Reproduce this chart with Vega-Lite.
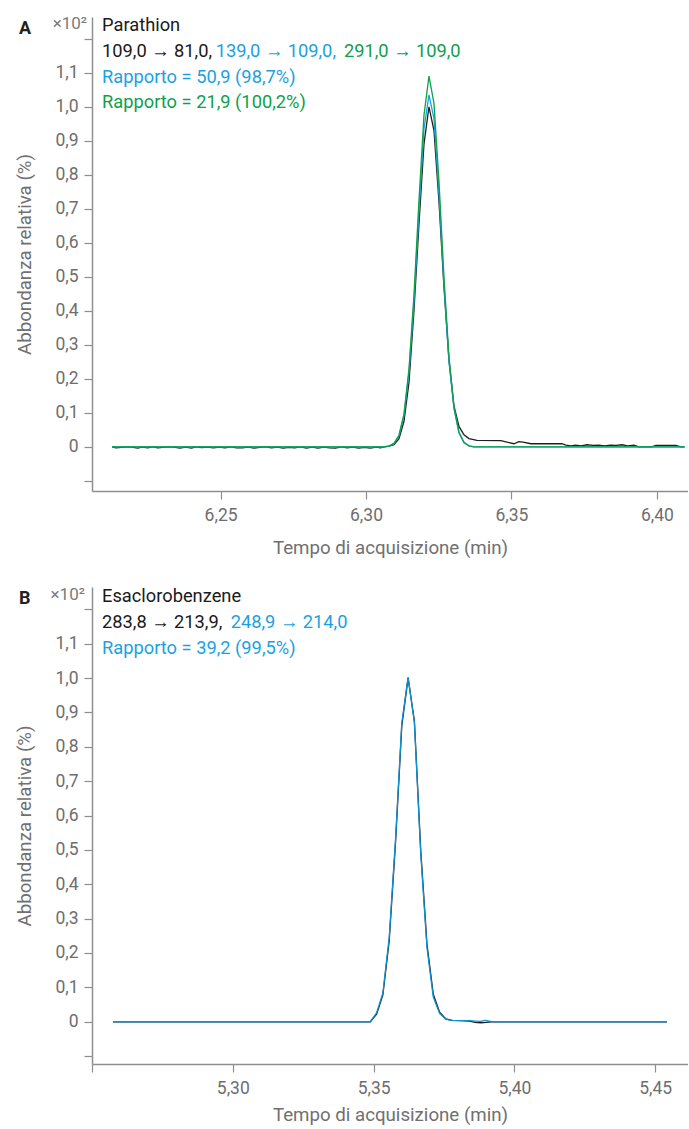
{
  "$schema": "https://vega.github.io/schema/vega-lite/v6.json",
  "padding": {"left": 15, "top": 15, "right": 0, "bottom": 0},
  "background": "white",
  "spacing": 27,
  "config": {
    "font": "Roboto",
    "view": {"stroke": null},
    "axis": {
      "domainColor": "#8f8f8f", "domainWidth": 1.5,
      "tickColor": "#8f8f8f", "tickWidth": 1.2, "tickSize": 8,
      "labelColor": "#6e6e6e", "labelFont": "Roboto", "labelFontSize": 17.5, "labelOverlap": false,
      "titleColor": "#707070", "titleFont": "Roboto", "titleFontSize": 18.7, "titleFontWeight": "normal",
      "grid": false
    }
  },
  "datasets": {
    "traces": [
      {"panel":"A","series":"A1","t":6.2127,"v":0},
      {"panel":"A","series":"A1","t":6.2140,"v":-0.003},
      {"panel":"A","series":"A1","t":6.2160,"v":-0.002},
      {"panel":"A","series":"A1","t":6.2180,"v":0},
      {"panel":"A","series":"A1","t":6.2200,"v":-0.002},
      {"panel":"A","series":"A1","t":6.2215,"v":-0.004},
      {"panel":"A","series":"A1","t":6.2230,"v":-0.001},
      {"panel":"A","series":"A1","t":6.2250,"v":-0.003},
      {"panel":"A","series":"A1","t":6.2265,"v":0},
      {"panel":"A","series":"A1","t":6.2285,"v":-0.003},
      {"panel":"A","series":"A1","t":6.2300,"v":-0.002},
      {"panel":"A","series":"A1","t":6.2320,"v":0},
      {"panel":"A","series":"A1","t":6.2340,"v":-0.001},
      {"panel":"A","series":"A1","t":6.2360,"v":-0.004},
      {"panel":"A","series":"A1","t":6.2380,"v":-0.001},
      {"panel":"A","series":"A1","t":6.2400,"v":-0.004},
      {"panel":"A","series":"A1","t":6.2415,"v":0},
      {"panel":"A","series":"A1","t":6.2435,"v":-0.002},
      {"panel":"A","series":"A1","t":6.2455,"v":-0.001},
      {"panel":"A","series":"A1","t":6.2475,"v":-0.003},
      {"panel":"A","series":"A1","t":6.2495,"v":-0.001},
      {"panel":"A","series":"A1","t":6.2515,"v":-0.003},
      {"panel":"A","series":"A1","t":6.2535,"v":0},
      {"panel":"A","series":"A1","t":6.2555,"v":-0.003},
      {"panel":"A","series":"A1","t":6.2575,"v":-0.003},
      {"panel":"A","series":"A1","t":6.2595,"v":-0.001},
      {"panel":"A","series":"A1","t":6.2615,"v":-0.004},
      {"panel":"A","series":"A1","t":6.2635,"v":-0.002},
      {"panel":"A","series":"A1","t":6.2655,"v":0},
      {"panel":"A","series":"A1","t":6.2675,"v":-0.003},
      {"panel":"A","series":"A1","t":6.2695,"v":-0.001},
      {"panel":"A","series":"A1","t":6.2715,"v":-0.004},
      {"panel":"A","series":"A1","t":6.2735,"v":-0.002},
      {"panel":"A","series":"A1","t":6.2755,"v":-0.003},
      {"panel":"A","series":"A1","t":6.2775,"v":0},
      {"panel":"A","series":"A1","t":6.2795,"v":-0.004},
      {"panel":"A","series":"A1","t":6.2815,"v":-0.001},
      {"panel":"A","series":"A1","t":6.2835,"v":-0.004},
      {"panel":"A","series":"A1","t":6.2855,"v":-0.001},
      {"panel":"A","series":"A1","t":6.2875,"v":-0.003},
      {"panel":"A","series":"A1","t":6.2895,"v":-0.004},
      {"panel":"A","series":"A1","t":6.2915,"v":0},
      {"panel":"A","series":"A1","t":6.2935,"v":-0.003},
      {"panel":"A","series":"A1","t":6.2955,"v":-0.001},
      {"panel":"A","series":"A1","t":6.2975,"v":-0.004},
      {"panel":"A","series":"A1","t":6.2995,"v":-0.002},
      {"panel":"A","series":"A1","t":6.3015,"v":-0.004},
      {"panel":"A","series":"A1","t":6.3035,"v":-0.001},
      {"panel":"A","series":"A1","t":6.3050,"v":-0.003},
      {"panel":"A","series":"A1","t":6.3062,"v":0},
      {"panel":"A","series":"A1","t":6.3079,"v":0.002},
      {"panel":"A","series":"A1","t":6.30962,"v":0.006},
      {"panel":"A","series":"A1","t":6.31134,"v":0.024},
      {"panel":"A","series":"A1","t":6.31306,"v":0.075},
      {"panel":"A","series":"A1","t":6.31478,"v":0.19},
      {"panel":"A","series":"A1","t":6.31649,"v":0.40},
      {"panel":"A","series":"A1","t":6.31821,"v":0.655},
      {"panel":"A","series":"A1","t":6.31993,"v":0.89},
      {"panel":"A","series":"A1","t":6.32165,"v":1.0},
      {"panel":"A","series":"A1","t":6.32337,"v":0.93},
      {"panel":"A","series":"A1","t":6.32509,"v":0.72},
      {"panel":"A","series":"A1","t":6.3268,"v":0.47},
      {"panel":"A","series":"A1","t":6.32852,"v":0.255},
      {"panel":"A","series":"A1","t":6.33024,"v":0.12},
      {"panel":"A","series":"A1","t":6.33196,"v":0.06},
      {"panel":"A","series":"A1","t":6.33368,"v":0.035},
      {"panel":"A","series":"A1","t":6.3354,"v":0.024},
      {"panel":"A","series":"A1","t":6.33814,"v":0.019},
      {"panel":"A","series":"A1","t":6.34639,"v":0.018},
      {"panel":"A","series":"A1","t":6.35086,"v":0.009},
      {"panel":"A","series":"A1","t":6.35258,"v":0.015},
      {"panel":"A","series":"A1","t":6.354,"v":0.014},
      {"panel":"A","series":"A1","t":6.3567,"v":0.009},
      {"panel":"A","series":"A1","t":6.36735,"v":0.009},
      {"panel":"A","series":"A1","t":6.36873,"v":0.005},
      {"panel":"A","series":"A1","t":6.3705,"v":0.003},
      {"panel":"A","series":"A1","t":6.372,"v":0.005},
      {"panel":"A","series":"A1","t":6.374,"v":0.003},
      {"panel":"A","series":"A1","t":6.376,"v":0.006},
      {"panel":"A","series":"A1","t":6.378,"v":0.004},
      {"panel":"A","series":"A1","t":6.38,"v":0.005},
      {"panel":"A","series":"A1","t":6.382,"v":0.003},
      {"panel":"A","series":"A1","t":6.384,"v":0.005},
      {"panel":"A","series":"A1","t":6.386,"v":0.004},
      {"panel":"A","series":"A1","t":6.388,"v":0.006},
      {"panel":"A","series":"A1","t":6.39,"v":0.003},
      {"panel":"A","series":"A1","t":6.3921,"v":0.005},
      {"panel":"A","series":"A1","t":6.39381,"v":0.0},
      {"panel":"A","series":"A1","t":6.39828,"v":0.0},
      {"panel":"A","series":"A1","t":6.39966,"v":0.004},
      {"panel":"A","series":"A1","t":6.40653,"v":0.004},
      {"panel":"A","series":"A1","t":6.40825,"v":0.0},
      {"panel":"A","series":"A1","t":6.4095,"v":0.0},

      {"panel":"A","series":"A2","t":6.2127,"v":0},
      {"panel":"A","series":"A2","t":6.3062,"v":0},
      {"panel":"A","series":"A2","t":6.3079,"v":0.002},
      {"panel":"A","series":"A2","t":6.30962,"v":0.0095},
      {"panel":"A","series":"A2","t":6.31134,"v":0.032},
      {"panel":"A","series":"A2","t":6.31306,"v":0.092},
      {"panel":"A","series":"A2","t":6.31478,"v":0.218},
      {"panel":"A","series":"A2","t":6.31649,"v":0.425},
      {"panel":"A","series":"A2","t":6.31821,"v":0.69},
      {"panel":"A","series":"A2","t":6.31993,"v":0.935},
      {"panel":"A","series":"A2","t":6.32165,"v":1.035},
      {"panel":"A","series":"A2","t":6.32337,"v":0.965},
      {"panel":"A","series":"A2","t":6.32509,"v":0.745},
      {"panel":"A","series":"A2","t":6.3268,"v":0.478},
      {"panel":"A","series":"A2","t":6.32852,"v":0.252},
      {"panel":"A","series":"A2","t":6.33024,"v":0.112},
      {"panel":"A","series":"A2","t":6.33196,"v":0.041},
      {"panel":"A","series":"A2","t":6.33368,"v":0.012},
      {"panel":"A","series":"A2","t":6.3354,"v":0.003},
      {"panel":"A","series":"A2","t":6.33711,"v":0},
      {"panel":"A","series":"A2","t":6.4095,"v":0},

      {"panel":"A","series":"A3","t":6.2127,"v":0},
      {"panel":"A","series":"A3","t":6.3062,"v":0},
      {"panel":"A","series":"A3","t":6.3079,"v":0.002},
      {"panel":"A","series":"A3","t":6.30962,"v":0.01},
      {"panel":"A","series":"A3","t":6.31134,"v":0.034},
      {"panel":"A","series":"A3","t":6.31306,"v":0.097},
      {"panel":"A","series":"A3","t":6.31478,"v":0.229},
      {"panel":"A","series":"A3","t":6.31649,"v":0.447},
      {"panel":"A","series":"A3","t":6.31821,"v":0.724},
      {"panel":"A","series":"A3","t":6.31993,"v":0.975},
      {"panel":"A","series":"A3","t":6.32165,"v":1.09},
      {"panel":"A","series":"A3","t":6.32337,"v":1.01},
      {"panel":"A","series":"A3","t":6.32509,"v":0.78},
      {"panel":"A","series":"A3","t":6.3268,"v":0.50},
      {"panel":"A","series":"A3","t":6.32852,"v":0.265},
      {"panel":"A","series":"A3","t":6.33024,"v":0.117},
      {"panel":"A","series":"A3","t":6.33196,"v":0.043},
      {"panel":"A","series":"A3","t":6.33368,"v":0.013},
      {"panel":"A","series":"A3","t":6.3354,"v":0.003},
      {"panel":"A","series":"A3","t":6.33711,"v":0},
      {"panel":"A","series":"A3","t":6.4095,"v":0},

      {"panel":"B","series":"B1","t":5.2575,"v":0},
      {"panel":"B","series":"B1","t":5.34883,"v":0},
      {"panel":"B","series":"B1","t":5.35107,"v":0.022},
      {"panel":"B","series":"B1","t":5.3533,"v":0.078},
      {"panel":"B","series":"B1","t":5.35554,"v":0.235},
      {"panel":"B","series":"B1","t":5.35778,"v":0.52},
      {"panel":"B","series":"B1","t":5.36001,"v":0.86},
      {"panel":"B","series":"B1","t":5.36225,"v":1.0},
      {"panel":"B","series":"B1","t":5.36449,"v":0.875},
      {"panel":"B","series":"B1","t":5.36673,"v":0.5},
      {"panel":"B","series":"B1","t":5.36896,"v":0.225},
      {"panel":"B","series":"B1","t":5.3712,"v":0.08},
      {"panel":"B","series":"B1","t":5.37344,"v":0.028},
      {"panel":"B","series":"B1","t":5.37567,"v":0.008},
      {"panel":"B","series":"B1","t":5.37791,"v":0.004},
      {"panel":"B","series":"B1","t":5.381,"v":0.003},
      {"panel":"B","series":"B1","t":5.384,"v":0.002},
      {"panel":"B","series":"B1","t":5.386,"v":-0.002},
      {"panel":"B","series":"B1","t":5.388,"v":-0.003},
      {"panel":"B","series":"B1","t":5.39,"v":-0.002},
      {"panel":"B","series":"B1","t":5.392,"v":0.0},
      {"panel":"B","series":"B1","t":5.4542,"v":0},

      {"panel":"B","series":"B2","t":5.2575,"v":0},
      {"panel":"B","series":"B2","t":5.34883,"v":0},
      {"panel":"B","series":"B2","t":5.35107,"v":0.026},
      {"panel":"B","series":"B2","t":5.3533,"v":0.084},
      {"panel":"B","series":"B2","t":5.35554,"v":0.245},
      {"panel":"B","series":"B2","t":5.35778,"v":0.53},
      {"panel":"B","series":"B2","t":5.36001,"v":0.87},
      {"panel":"B","series":"B2","t":5.36225,"v":1.003},
      {"panel":"B","series":"B2","t":5.36449,"v":0.87},
      {"panel":"B","series":"B2","t":5.36673,"v":0.49},
      {"panel":"B","series":"B2","t":5.36896,"v":0.215},
      {"panel":"B","series":"B2","t":5.3712,"v":0.072},
      {"panel":"B","series":"B2","t":5.37344,"v":0.024},
      {"panel":"B","series":"B2","t":5.37567,"v":0.007},
      {"panel":"B","series":"B2","t":5.37791,"v":0.004},
      {"panel":"B","series":"B2","t":5.381,"v":0.003},
      {"panel":"B","series":"B2","t":5.384,"v":0.003},
      {"panel":"B","series":"B2","t":5.386,"v":0.002},
      {"panel":"B","series":"B2","t":5.388,"v":0.001},
      {"panel":"B","series":"B2","t":5.3897,"v":0.004},
      {"panel":"B","series":"B2","t":5.392,"v":0.0},
      {"panel":"B","series":"B2","t":5.4542,"v":0}
    ]
  },
  "vconcat": [
    {
      "width": 596,
      "height": 474,
      "layer": [
        {
          "data": {"name": "traces"},
          "transform": [{"filter": "datum.series == 'A1'"}],
          "mark": {"type": "line", "color": "#1f1f1f", "strokeWidth": 1.3},
          "encoding": {
            "x": {"field": "t", "type": "quantitative",
              "scale": {"domain": [6.2058, 6.4107], "nice": false, "zero": false},
              "axis": {"values": [6.25, 6.3, 6.35, 6.4], "tickCount": 30, "labelOverlap": false,
                "labelExpr": "replace(format(datum.value, '.2f'), '.', ',')",
                "title": "Tempo di acquisizione (min)", "labelPadding": 7, "titlePadding": 15}},
            "y": {"field": "v", "type": "quantitative",
              "scale": {"domain": [-0.13, 1.264], "nice": false, "zero": false},
              "axis": {"values": [-0.1, 0, 0.1, 0.2, 0.3, 0.4, 0.5, 0.6, 0.7, 0.8, 0.9, 1.0, 1.1, 1.2], "tickCount": 30, "labelOverlap": false,
                "labelExpr": "datum.value < -0.05 || datum.value > 1.15 ? '' : (datum.value == 0 ? '0' : replace(format(datum.value, '.1f'), '.', ','))",
                "title": "Abbondanza relativa (%)", "labelPadding": 6, "titlePadding": 20}}
          }
        },
        {
          "data": {"name": "traces"},
          "transform": [{"filter": "datum.series == 'A2'"}],
          "mark": {"type": "line", "color": "#1ba1e2", "strokeWidth": 1.3},
          "encoding": {"x": {"field": "t", "type": "quantitative"}, "y": {"field": "v", "type": "quantitative"}}
        },
        {
          "data": {"name": "traces"},
          "transform": [{"filter": "datum.series == 'A3'"}],
          "mark": {"type": "line", "color": "#0da14b", "strokeWidth": 1.3},
          "encoding": {"x": {"field": "t", "type": "quantitative"}, "y": {"field": "v", "type": "quantitative"}}
        },
        {
          "data": {"values": [{}]},
          "mark": {"type": "text", "text": "A", "align": "left", "baseline": "alphabetic", "fontSize": 18, "fontWeight": "bold", "color": "#222222"},
          "encoding": {"x": {"datum": 6.18071, "type": "quantitative"}, "y": {"datum": 1.213, "type": "quantitative"}}
        },
        {
          "data": {"values": [{}]},
          "mark": {"type": "text", "text": "×10²", "align": "right", "baseline": "alphabetic", "fontSize": 17, "color": "#7a7a7a"},
          "encoding": {"x": {"datum": 6.2041, "type": "quantitative"}, "y": {"datum": 1.228, "type": "quantitative"}}
        },
        {
          "data": {"values": [{}]},
          "mark": {"type": "text", "text": "Parathion", "align": "left", "baseline": "alphabetic", "fontSize": 18.3, "color": "#1a1a1a"},
          "encoding": {"x": {"datum": 6.20924, "type": "quantitative"}, "y": {"datum": 1.222, "type": "quantitative"}}
        },
        {
          "data": {"values": [{}]},
          "mark": {"type": "text", "text": "109,0 → 81,0,", "align": "left", "baseline": "alphabetic", "fontSize": 18.3, "color": "#1a1a1a"},
          "encoding": {"x": {"datum": 6.20924, "type": "quantitative"}, "y": {"datum": 1.147, "type": "quantitative"}}
        },
        {
          "data": {"values": [{}]},
          "mark": {"type": "text", "text": "139,0 → 109,0,", "align": "left", "baseline": "alphabetic", "fontSize": 18.3, "color": "#1ba1e2"},
          "encoding": {"x": {"datum": 6.24831, "type": "quantitative"}, "y": {"datum": 1.147, "type": "quantitative"}}
        },
        {
          "data": {"values": [{}]},
          "mark": {"type": "text", "text": "291,0 → 109,0", "align": "left", "baseline": "alphabetic", "fontSize": 18.3, "color": "#0da14b"},
          "encoding": {"x": {"datum": 6.2924, "type": "quantitative"}, "y": {"datum": 1.147, "type": "quantitative"}}
        },
        {
          "data": {"values": [{}]},
          "mark": {"type": "text", "text": "Rapporto = 50,9 (98,7%)", "align": "left", "baseline": "alphabetic", "fontSize": 18.3, "color": "#1ba1e2"},
          "encoding": {"x": {"datum": 6.20924, "type": "quantitative"}, "y": {"datum": 1.071, "type": "quantitative"}}
        },
        {
          "data": {"values": [{}]},
          "mark": {"type": "text", "text": "Rapporto = 21,9 (100,2%)", "align": "left", "baseline": "alphabetic", "fontSize": 18.3, "color": "#0da14b"},
          "encoding": {"x": {"datum": 6.20924, "type": "quantitative"}, "y": {"datum": 0.997, "type": "quantitative"}}
        }
      ]
    },
    {
      "width": 596,
      "height": 477,
      "layer": [
        {
          "data": {"name": "traces"},
          "transform": [{"filter": "datum.series == 'B1'"}],
          "mark": {"type": "line", "color": "#1f1f1f", "strokeWidth": 1.3},
          "encoding": {
            "x": {"field": "t", "type": "quantitative",
              "scale": {"domain": [5.25, 5.46165], "nice": false, "zero": false},
              "axis": {"values": [5.25, 5.3, 5.35, 5.4, 5.45], "tickCount": 30, "labelOverlap": false,
                "labelExpr": "datum.value < 5.26 ? '' : replace(format(datum.value, '.2f'), '.', ',')",
                "title": "Tempo di acquisizione (min)", "labelPadding": 7, "titlePadding": 9}},
            "y": {"field": "v", "type": "quantitative",
              "scale": {"domain": [-0.123, 1.265], "nice": false, "zero": false},
              "axis": {"values": [-0.1, 0, 0.1, 0.2, 0.3, 0.4, 0.5, 0.6, 0.7, 0.8, 0.9, 1.0, 1.1, 1.2], "tickCount": 30, "labelOverlap": false,
                "labelExpr": "datum.value < -0.05 || datum.value > 1.15 ? '' : (datum.value == 0 ? '0' : replace(format(datum.value, '.1f'), '.', ','))",
                "title": "Abbondanza relativa (%)", "labelPadding": 6, "titlePadding": 20}}
          }
        },
        {
          "data": {"name": "traces"},
          "transform": [{"filter": "datum.series == 'B2'"}],
          "mark": {"type": "line", "color": "#0b92d6", "strokeWidth": 1.3},
          "encoding": {"x": {"field": "t", "type": "quantitative"}, "y": {"field": "v", "type": "quantitative"}}
        },
        {
          "data": {"values": [{}]},
          "mark": {"type": "text", "text": "B", "align": "left", "baseline": "alphabetic", "fontSize": 18, "fontWeight": "bold", "color": "#222222"},
          "encoding": {"x": {"datum": 5.22408, "type": "quantitative"}, "y": {"datum": 1.216, "type": "quantitative"}}
        },
        {
          "data": {"values": [{}]},
          "mark": {"type": "text", "text": "×10²", "align": "right", "baseline": "alphabetic", "fontSize": 17, "color": "#7a7a7a"},
          "encoding": {"x": {"datum": 5.2475, "type": "quantitative"}, "y": {"datum": 1.228, "type": "quantitative"}}
        },
        {
          "data": {"values": [{}]},
          "mark": {"type": "text", "text": "Esaclorobenzene", "align": "left", "baseline": "alphabetic", "fontSize": 18.3, "color": "#1a1a1a"},
          "encoding": {"x": {"datum": 5.25355, "type": "quantitative"}, "y": {"datum": 1.222, "type": "quantitative"}}
        },
        {
          "data": {"values": [{}]},
          "mark": {"type": "text", "text": "283,8 → 213,9,", "align": "left", "baseline": "alphabetic", "fontSize": 18.3, "color": "#1a1a1a"},
          "encoding": {"x": {"datum": 5.25355, "type": "quantitative"}, "y": {"datum": 1.147, "type": "quantitative"}}
        },
        {
          "data": {"values": [{}]},
          "mark": {"type": "text", "text": "248,9 → 214,0", "align": "left", "baseline": "alphabetic", "fontSize": 18.3, "color": "#1ba1e2"},
          "encoding": {"x": {"datum": 5.29925, "type": "quantitative"}, "y": {"datum": 1.147, "type": "quantitative"}}
        },
        {
          "data": {"values": [{}]},
          "mark": {"type": "text", "text": "Rapporto = 39,2 (99,5%)", "align": "left", "baseline": "alphabetic", "fontSize": 18.3, "color": "#1ba1e2"},
          "encoding": {"x": {"datum": 5.25355, "type": "quantitative"}, "y": {"datum": 1.071, "type": "quantitative"}}
        }
      ]
    }
  ]
}
